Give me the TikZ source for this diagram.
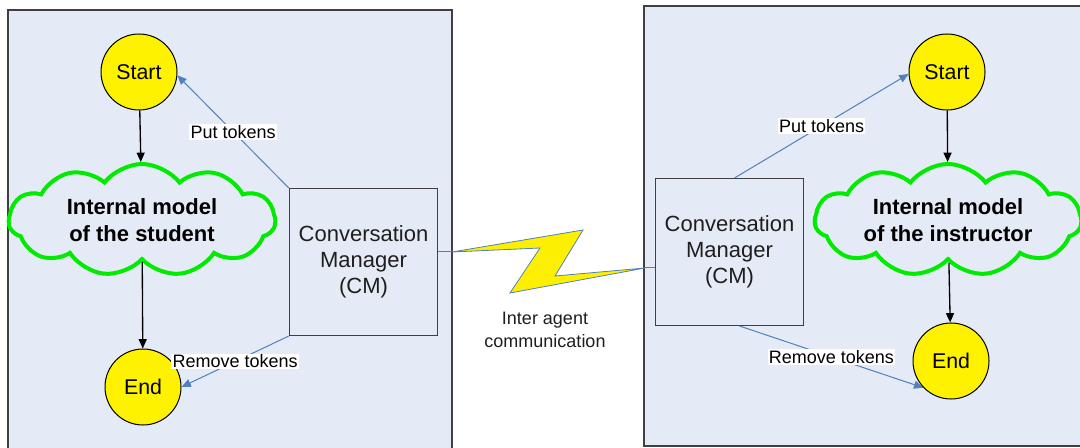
\documentclass[tikz,border=0pt]{standalone}
\usepackage{fontspec}
\setmainfont{Liberation Sans}
\usetikzlibrary{shapes.symbols,arrows.meta,calc}

\definecolor{panelfill}{RGB}{229,235,246}
\definecolor{panelline}{RGB}{64,64,64}
\definecolor{tokenblue}{RGB}{79,129,189}
\definecolor{modelgreen}{RGB}{0,235,0}
\definecolor{textgray}{RGB}{30,30,30}

\tikzset{every picture/.style={line width=0.75pt},
  panel/.style={draw=panelline,fill=panelfill,line width=1pt},
  state/.style={circle,draw=black,fill=yellow,minimum size=57pt,inner sep=0pt,
    font=\fontsize{16}{19}\selectfont},
  model/.style={cloud,cloud puffs=11,cloud puff arc=105,cloud ignores aspect,draw=modelgreen,
    line width=3pt,minimum width=200pt,minimum height=84pt,inner sep=0pt,align=center,
    font=\bfseries\fontsize{16.5}{20}\selectfont},
  manager/.style={rectangle,draw=panelline,line width=1pt,minimum width=111pt,
    minimum height=110pt,align=center,text=textgray,font=\fontsize{16.5}{19.5}\selectfont},
  flow/.style={draw=black,line width=1pt,-{Triangle[length=7pt,width=6pt]}},
  tokens/.style={draw=tokenblue,line width=0.75pt,-{Triangle[length=7pt,width=6pt]}},
  tokenlabel/.style={fill=white,inner sep=1pt,font=\fontsize{13.5}{15}\selectfont}
}

\begin{document}
\begin{tikzpicture}[x=0.75pt,y=0.75pt,yscale=-1,xscale=1]
\useasboundingbox (0,0) rectangle (1080,448);
\clip (0,0) rectangle (1080,448);

%Shape: Rectangle (student side)
\draw [panel] (8,10) rectangle (452,470) ;
%Shape: Rectangle (instructor side)
\draw [panel] (644,6) rectangle (1100,446) ;

% student agent
\node [state] (startL) at (139,72) {Start};
\node [model] (modelL) at (142,220) {Internal model\\of the student};
\node [state] (endL) at (143,387) {End};
\node [manager] (cmL) at (363.5,262) {Conversation\\Manager\\(CM)};

% instructor agent
\node [state] (startR) at (947,72) {Start};
\node [model] (modelR) at (948,220) {Internal model\\of the instructor};
\node [state] (endR) at (951,361) {End};
\node [manager] (cmR) at (729.5,252) {Conversation\\Manager\\(CM)};

\draw [flow] (startL) -- (modelL) ;
\draw [flow] (modelL) -- (endL) ;
\draw [flow] (startR) -- (modelR) ;
\draw [flow] (modelR) -- (endR) ;

\draw [tokens] (cmL.north west) -- (startL.-5) node [tokenlabel,midway] {Put tokens} ;
\draw [tokens] (cmL.south west) -- (endL.east) node [tokenlabel,midway] {Remove tokens} ;
\draw [tokens] ($(cmR.north)+(5,0)$) -- (startR.183) node [tokenlabel,midway] {Put tokens} ;
\draw [tokens] ($(cmR.south)+(10,0)$) -- (endR.224) node [tokenlabel,midway] {Remove tokens} ;

%Lightning between the managers
\coordinate (boltL) at (452,252) ;
\coordinate (boltR) at (645,268) ;
\draw [draw=tokenblue] ($(cmL.east)+(0,-10)$) -- (boltL) ;
\draw [draw=tokenblue] (boltR) -- ($(cmR.west)+(0,16)$) ;
\shadedraw [draw=tokenblue,line width=0.6pt,left color={rgb,255:red,252;green,240;blue,0},
  middle color={rgb,255:red,255;green,255;blue,160},right color={rgb,255:red,252;green,240;blue,0}]
  (boltL) -- (583,230) -- (555,276) -- (boltR) -- (510,293) -- (540,248) -- cycle ;

% Text Node
\node [align=center,text=textgray,font=\fontsize{13.5}{17}\selectfont] (commtext) at (545,330) {Inter agent\\communication};

\end{tikzpicture}
\end{document}
